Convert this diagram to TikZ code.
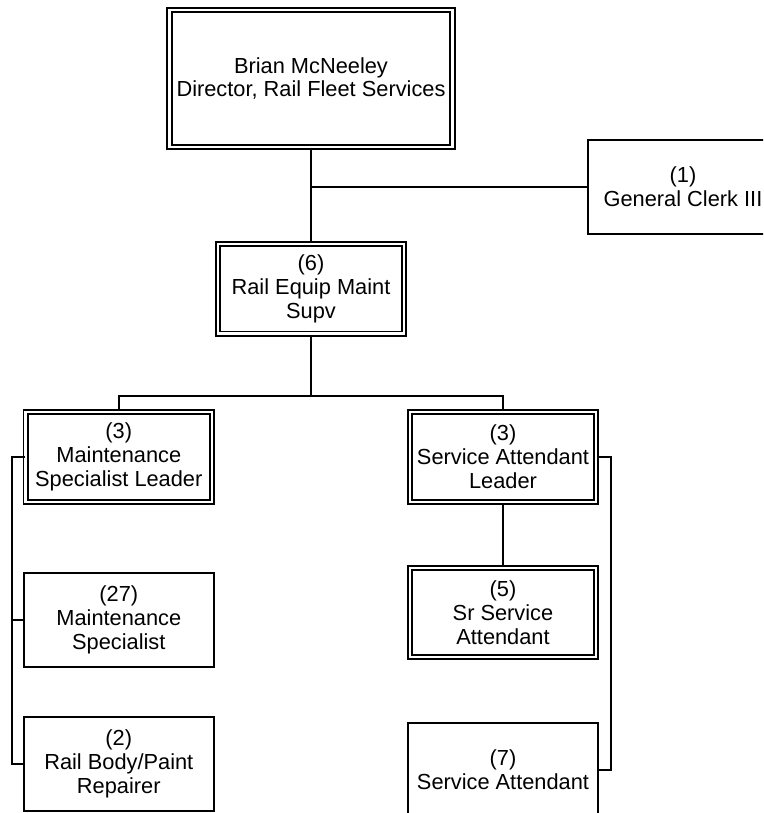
\documentclass[tikz,border=0pt]{standalone}
\usepackage{fontspec}
\setmainfont{Liberation Sans}
\begin{document}
\begin{tikzpicture}[x=1pt,y=-1pt,
  txt/.style={align=center, inner sep=0pt, font=\fontsize{21.8}{23.8}\selectfont},
  sbox/.style={txt, draw, rectangle, line width=2pt, minimum width=190.5pt, minimum height=94pt},
  dbox/.style={txt, draw, rectangle, double, double distance=2.5pt, line width=1.8pt, minimum width=186.3pt, minimum height=89.9pt},
  conn/.style={line width=2pt}]
\clip (0,0) rectangle (763,813);
\fill[white] (0,0) rectangle (763,813);
\node[dbox, minimum width=283pt, minimum height=137pt] (top) at (311,78.5) {Brian McNeeley\\Director, Rail Fleet Services};
\node[sbox] (gc) at (683,187) {(1)\\General Clerk III};
\node[dbox] (sup) at (311,288.7) {(6)\\Rail Equip Maint\\Supv};
\node[dbox] (msl) at (118.8,457) {(3)\\Maintenance\\Specialist Leader};
\node[dbox] (sal) at (503,457) {(3)\\Service Attendant\\Leader};
\node[sbox] (ms) at (118.8,620) {(27)\\Maintenance\\Specialist};
\node[sbox] (rb) at (118.8,763.7) {(2)\\Rail Body/Paint\\Repairer};
\node[dbox, minimum height=89pt] (ssa) at (503,612.5) {(5)\\Sr Service\\Attendant};
\node[sbox] (sa) at (503,769.7) {(7)\\Service Attendant};
\coordinate (bus) at (311,396);
\coordinate (lr) at (12.3,0);
\coordinate (rr) at (610.7,0);
\draw[conn] (top.south) -- (sup.north);
\draw[conn] (top.south |- gc.west) -- (gc.west);
\draw[conn] (sup.south) -- (bus);
\draw[conn] (msl.north) |- (bus) -| (sal.north);
\draw[conn] (msl.west) -- (msl.west -| lr) |- (rb.west);
\draw[conn] (ms.west) -- (ms.west -| lr);
\draw[conn] (sal.east) -- (sal.east -| rr) |- (sa.east);
\draw[conn] (sal.south) -- (ssa.north);
\end{tikzpicture}
\end{document}
